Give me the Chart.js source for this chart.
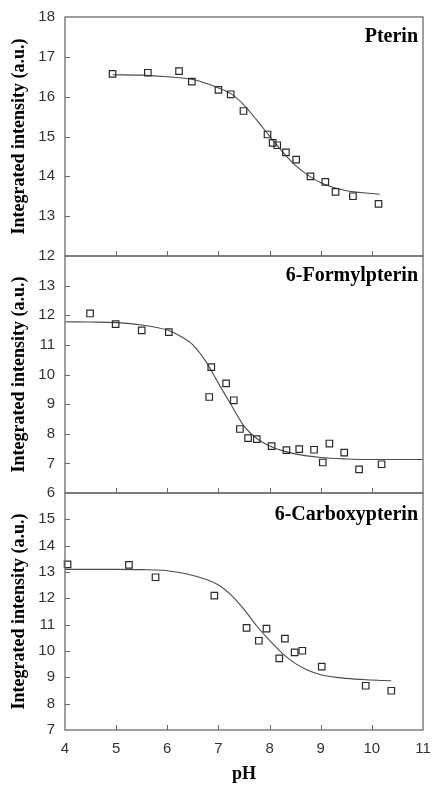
<!DOCTYPE html>
<html><head><meta charset="utf-8">
<script src="https://cdn.jsdelivr.net/npm/chart.js@4.4.1/dist/chart.umd.min.js"></script>
<style>
html,body{margin:0;padding:0;background:#fff;}
#wrap{position:relative;width:432px;height:786px;overflow:hidden;background:#fff;}
canvas{position:absolute;left:0;display:block;}
</style></head><body>
<div id="wrap">
<canvas id="c1" width="432" height="272" style="top:0;width:432px;height:272px"></canvas>
<canvas id="c2" width="432" height="270" style="top:240px;width:432px;height:270px"></canvas>
<canvas id="c3" width="432" height="306" style="top:480px;width:432px;height:306px"></canvas>
</div>
<script>
// ---- data ----
const xTicks = [4,5,6,7,8,9,10,11];
const panelNames = ['Pterin','6-Formylpterin','6-Carboxypterin'];
const yTitle = 'Integrated intensity (a.u.)';
const xTitle = 'pH';

const pterinPH = [4.93,5.62,6.23,6.48,7.00,7.24,7.49,7.96,8.06,8.15,8.32,8.52,8.80,9.09,9.29,9.63,10.13];
const pterinI  = [16.57,16.60,16.64,16.38,16.17,16.06,15.64,15.05,14.84,14.78,14.60,14.42,14.00,13.86,13.61,13.50,13.31];
const pterinFitPH = [4.93,5.5,6,6.5,7,7.25,7.5,7.75,8,8.25,8.5,8.75,9,9.5,10,10.15];
const pterinFitI  = [16.55,16.54,16.50,16.43,16.22,16.07,15.79,15.41,15.01,14.62,14.28,14.03,13.84,13.64,13.57,13.55];

const formylPH = [4.49,4.99,5.50,6.03,6.82,6.86,7.15,7.30,7.42,7.58,7.75,8.04,8.33,8.58,8.87,9.04,9.17,9.46,9.75,10.19];
const formylI  = [12.06,11.70,11.49,11.43,9.24,10.25,9.70,9.13,8.16,7.85,7.82,7.58,7.45,7.48,7.46,7.03,7.67,7.36,6.80,6.97];
const formylFitPH = [4,4.5,5,5.5,6,6.25,6.5,6.75,7,7.25,7.5,7.75,8,8.25,8.5,9,9.5,10,11];
const formylFitI  = [11.78,11.77,11.75,11.67,11.50,11.30,11.00,10.45,9.70,8.97,8.26,7.84,7.59,7.43,7.32,7.20,7.15,7.13,7.13];

const carboxyPH = [4.05,5.25,5.77,6.92,7.55,7.79,7.94,8.19,8.30,8.49,8.64,9.02,9.88,10.38];
const carboxyI  = [13.29,13.27,12.80,12.10,10.88,10.39,10.85,9.72,10.47,9.95,10.01,9.41,8.68,8.49];
const carboxyFitPH = [4,5,5.5,6,6.5,7,7.25,7.5,7.75,8,8.25,8.5,8.75,9,9.5,10,10.38];
const carboxyFitI  = [13.10,13.10,13.09,13.05,12.87,12.51,12.12,11.58,10.95,10.40,9.91,9.53,9.27,9.10,8.96,8.90,8.87];

const yRanges = [[12,18],[6,14],[7,16]];

// ---- helpers ----
const SANS = '"Liberation Sans", Arial, sans-serif';
const SERIF = '"Liberation Serif", "Times New Roman", serif';
const FRAME = '#6a6a6a';

function pts(xs, ys){ return xs.map((x,i)=>({x:x, y:ys[i]})); }

const framePlugin = {
  id: 'frame',
  afterDraw(chart, args, opts){
    const {ctx, chartArea:a, scales} = chart;
    ctx.save();
    ctx.strokeStyle = FRAME;
    ctx.lineWidth = 1.3;
    ctx.strokeRect(a.left, a.top, a.right - a.left, a.bottom - a.top);
    ctx.lineWidth = 1;
    ctx.beginPath();
    xTicks.forEach(v => {
      const px = Math.round(scales.x.getPixelForValue(v)) + 0.5;
      if (px > a.left + 1 && px < a.right - 1) { ctx.moveTo(px, a.bottom); ctx.lineTo(px, a.bottom - 5); }
    });
    scales.y.ticks.forEach(t => {
      const py = Math.round(scales.y.getPixelForValue(t.value)) + 0.5;
      if (py > a.top + 1 && py < a.bottom - 1) { ctx.moveTo(a.left, py); ctx.lineTo(a.left + 5, py); }
    });
    ctx.stroke();
    ctx.fillStyle = '#000';
    ctx.font = 'bold 20px ' + SERIF;
    ctx.textAlign = 'right';
    ctx.textBaseline = 'alphabetic';
    ctx.fillText(opts.name, a.right - 5, a.top + opts.base);
    ctx.restore();
  }
};

function makeChart(id, idx, scatter, fit, pad, showX){
  const [ymin, ymax] = yRanges[idx];
  return new Chart(document.getElementById(id), {
    type: 'scatter',
    data: { datasets: [
      { data: fit, showLine: true, pointRadius: 0, borderColor: '#4a4a4a', borderWidth: 1.1,
        cubicInterpolationMode: 'monotone', fill: false, order: 2 },
      { data: scatter, pointStyle: 'rect', pointRadius: 4.6, pointBorderColor: '#2a2a2a',
        pointBackgroundColor: 'rgba(0,0,0,0)', pointBorderWidth: 1.2, showLine: false, clip: false, order: 1 }
    ]},
    options: {
      responsive: false, maintainAspectRatio: false, animation: false, devicePixelRatio: 1,
      layout: { padding: pad },
      plugins: { legend: {display:false}, tooltip: {enabled:false}, title:{display:false},
        frame: { name: panelNames[idx], base: idx === 2 ? 27 : 25 } },
      scales: {
        x: { type: 'linear', min: 4, max: 11, display: showX,
          afterFit: s => { if (showX) s.height = 56; else s.height = 0;
                           s.paddingLeft = 0; s.paddingRight = 0; s.paddingTop = 0; s.paddingBottom = 0; },
          grid: { display: false, drawTicks: false },
          border: { display: false },
          ticks: { stepSize: 1, padding: 10, color: '#333', font: { family: SANS, size: 15 }, maxRotation: 0 },
          title: { display: true, text: xTitle, color: '#000', padding: {top:0, bottom:1},
            font: { family: SERIF, size: 18, weight: 'bold' } } },
        y: { type: 'linear', min: ymin, max: ymax,
          afterFit: s => { s.width = 65; s.paddingTop = 0; s.paddingBottom = 0; s.paddingLeft = 0; s.paddingRight = 0; },
          grid: { display: false, drawTicks: false },
          border: { display: false },
          ticks: { stepSize: 1, padding: 10, color: '#333', font: { family: SANS, size: 15 },
            callback: (v) => (idx > 0 && v === ymax) ? '' : String(v) },
          title: { display: true, text: yTitle, color: '#000', padding: {top: 9, bottom: 0},
            font: { family: SERIF, size: 18, weight: 'bold' } } }
      }
    },
    plugins: [framePlugin]
  });
}

makeChart('c1', 0, pts(pterinPH, pterinI), pts(pterinFitPH, pterinFitI), {top:17, right:9, bottom:16, left:0}, false);
makeChart('c2', 1, pts(formylPH, formylI), pts(formylFitPH, formylFitI), {top:16, right:9, bottom:17, left:0}, false);
makeChart('c3', 2, pts(carboxyPH, carboxyI), pts(carboxyFitPH, carboxyFitI), {top:13, right:9, bottom:0, left:0}, true);
</script>
</body></html>
